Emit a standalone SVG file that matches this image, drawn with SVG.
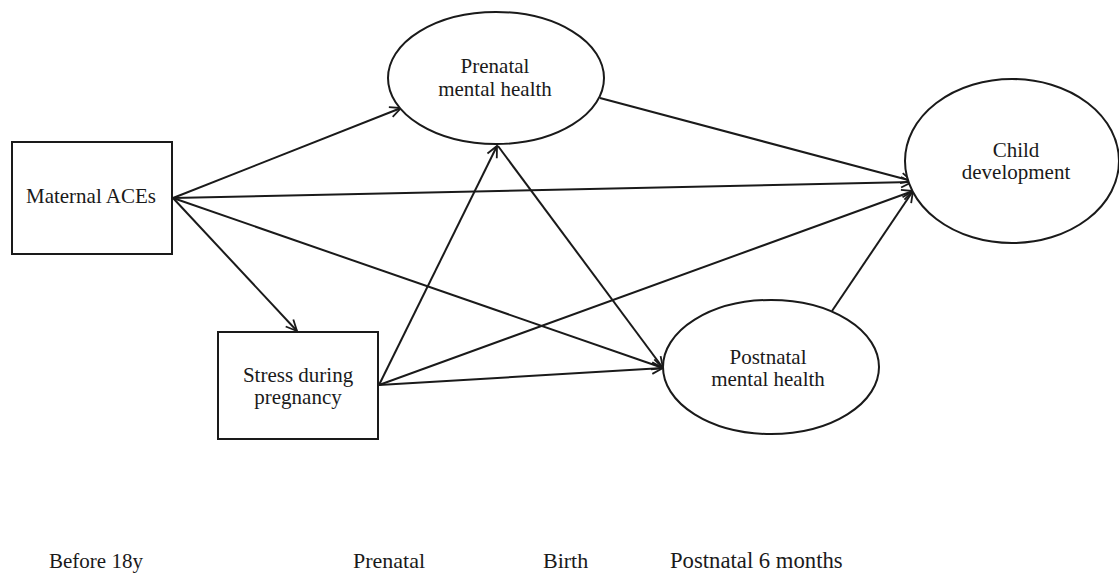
<svg xmlns="http://www.w3.org/2000/svg" width="1119" height="576" viewBox="0 0 1119 576">
<style>
.node{fill:#fff;stroke:#1a1a1a;stroke-width:2}
.lbl{font-family:"Liberation Serif","Times New Roman",serif;font-size:21px;fill:#1a1a1a;text-anchor:middle}
.time{font-family:"Liberation Serif","Times New Roman",serif;font-size:22px;fill:#1a1a1a}
.edge{stroke:#1a1a1a;stroke-width:2;fill:none;marker-end:url(#arr)}
</style>
<defs>
<marker id="arr" viewBox="0 0 12 12" markerWidth="12" markerHeight="12" refX="11.5" refY="6" orient="auto" markerUnits="userSpaceOnUse" overflow="visible">
<path d="M0.5,0.8 L11.5,6 L0.5,11.2" fill="none" stroke="#1a1a1a" stroke-width="1.8"/>
</marker>
</defs>
<rect width="1119" height="576" fill="#fff"/>
<g id="connectors">
<line class="edge" x1="173" y1="198" x2="401" y2="108"/>
<line class="edge" x1="173" y1="198" x2="912" y2="182"/>
<line class="edge" x1="173" y1="198" x2="297" y2="331"/>
<line class="edge" x1="173" y1="198" x2="663" y2="368"/>
<line class="edge" x1="379" y1="385" x2="497" y2="146"/>
<line class="edge" x1="379" y1="385" x2="663" y2="368"/>
<line class="edge" x1="379" y1="385" x2="913" y2="191"/>
<line class="edge" x1="498" y1="146" x2="663" y2="368"/>
<line class="edge" x1="600" y1="98" x2="912" y2="181"/>
<line class="edge" x1="832" y1="311" x2="913" y2="191"/>
</g>
<g id="maternal-aces">
<rect class="node" x="12" y="142" width="160" height="112"/>
<text class="lbl" x="91" y="203">Maternal ACEs</text>
</g>
<g id="stress-during-pregnancy">
<rect class="node" x="218" y="332" width="160" height="107"/>
<text class="lbl" x="298" y="382">Stress during</text>
<text class="lbl" x="298" y="404">pregnancy</text>
</g>
<g id="prenatal-mental-health">
<ellipse class="node" cx="496" cy="78" rx="108" ry="66"/>
<text class="lbl" x="495" y="73">Prenatal</text>
<text class="lbl" x="495" y="96">mental health</text>
</g>
<g id="child-development">
<ellipse class="node" cx="1012" cy="161" rx="107" ry="82"/>
<text class="lbl" x="1016" y="157">Child</text>
<text class="lbl" x="1016" y="179">development</text>
</g>
<g id="postnatal-mental-health">
<ellipse class="node" cx="771" cy="367" rx="108" ry="67"/>
<text class="lbl" x="768" y="364">Postnatal</text>
<text class="lbl" x="768" y="386">mental health</text>
</g>
<g id="timeline">
<text class="time" x="49" y="568" style="font-size:21px">Before 18y</text>
<text class="time" x="353" y="568">Prenatal</text>
<text class="time" x="543" y="568">Birth</text>
<text class="time" x="670" y="568" style="font-size:22.7px">Postnatal 6 months</text>
</g>
</svg>
